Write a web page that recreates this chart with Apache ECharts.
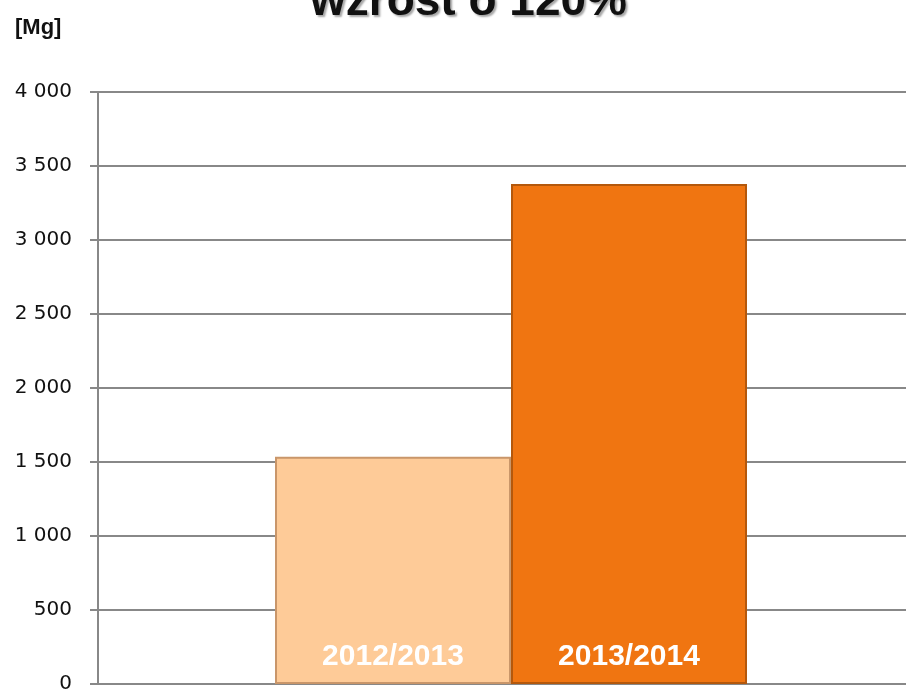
<!DOCTYPE html>
<html>
<head>
<meta charset="utf-8">
<script src="https://cdn.jsdelivr.net/npm/echarts@6/dist/echarts.min.js"></script>
<style>
  html, body { margin: 0; padding: 0; background: #fff; }
  #chart { width: 906px; height: 692px; }
</style>
</head>
<body>
<div id="chart"></div>
<script>
const seasons = ['2012/2013', '2013/2014']
const amounts = [1535, 3378]
const fills = ['#FECB98', '#F07511']
const edges = ['#C9966A', '#B4580C']

const chart = echarts.init(document.getElementById('chart'))

const fmt = (v) => String(v).replace(/\B(?=(\d{3})+(?!\d))/g, ' ')

chart.setOption({
  animation: false,
  backgroundColor: '#fff',
  title: {
    text: 'wzrost o 120%',
    left: 305,
    top: -26,
    textStyle: {
      fontFamily: 'Liberation Sans',
      fontWeight: 'bold',
      fontSize: 46,
      color: '#111',
      textShadowColor: 'rgba(0,0,0,0.35)',
      textShadowOffsetX: 2,
      textShadowOffsetY: 2,
      textShadowBlur: 2,
    },
  },
  graphic: [
    {
      type: 'text',
      left: 15,
      top: 17,
      style: {
        text: '[Mg]',
        font: 'bold 22px "Liberation Sans"',
        fill: '#111',
      },
    },
  ],
  // plot runs past the right edge of the picture, like the cropped original
  grid: { left: 98, right: -18, top: 92, bottom: 8, outerBoundsMode: 'none' },
  xAxis: {
    type: 'category',
    data: [''],
    axisLine: { lineStyle: { color: '#888', width: 2 } },
    axisTick: { show: false },
    axisLabel: { show: false },
  },
  yAxis: {
    type: 'value',
    min: 0,
    max: 4000,
    interval: 500,
    axisLine: { show: true, lineStyle: { color: '#888', width: 2 } },
    axisTick: { show: true, length: 8, lineStyle: { color: '#888', width: 2 } },
    axisLabel: {
      color: '#111',
      fontFamily: 'DejaVu Sans',
      fontSize: 20,
      margin: 26,
      formatter: fmt,
    },
    splitLine: { lineStyle: { color: '#888', width: 2 } },
  },
  series: seasons.map((name, i) => ({
    type: 'bar',
    name,
    data: [amounts[i]],
    barWidth: 236,
    barGap: '0%',
    itemStyle: {
      color: fills[i],
      borderColor: edges[i],
      borderWidth: 2,
    },
    label: {
      show: true,
      position: 'insideBottom',
      distance: 12,
      formatter: name,
      color: '#fff',
      fontFamily: 'Liberation Sans',
      fontWeight: 'bold',
      fontSize: 30,
    },
  })),
})
</script>
</body>
</html>
